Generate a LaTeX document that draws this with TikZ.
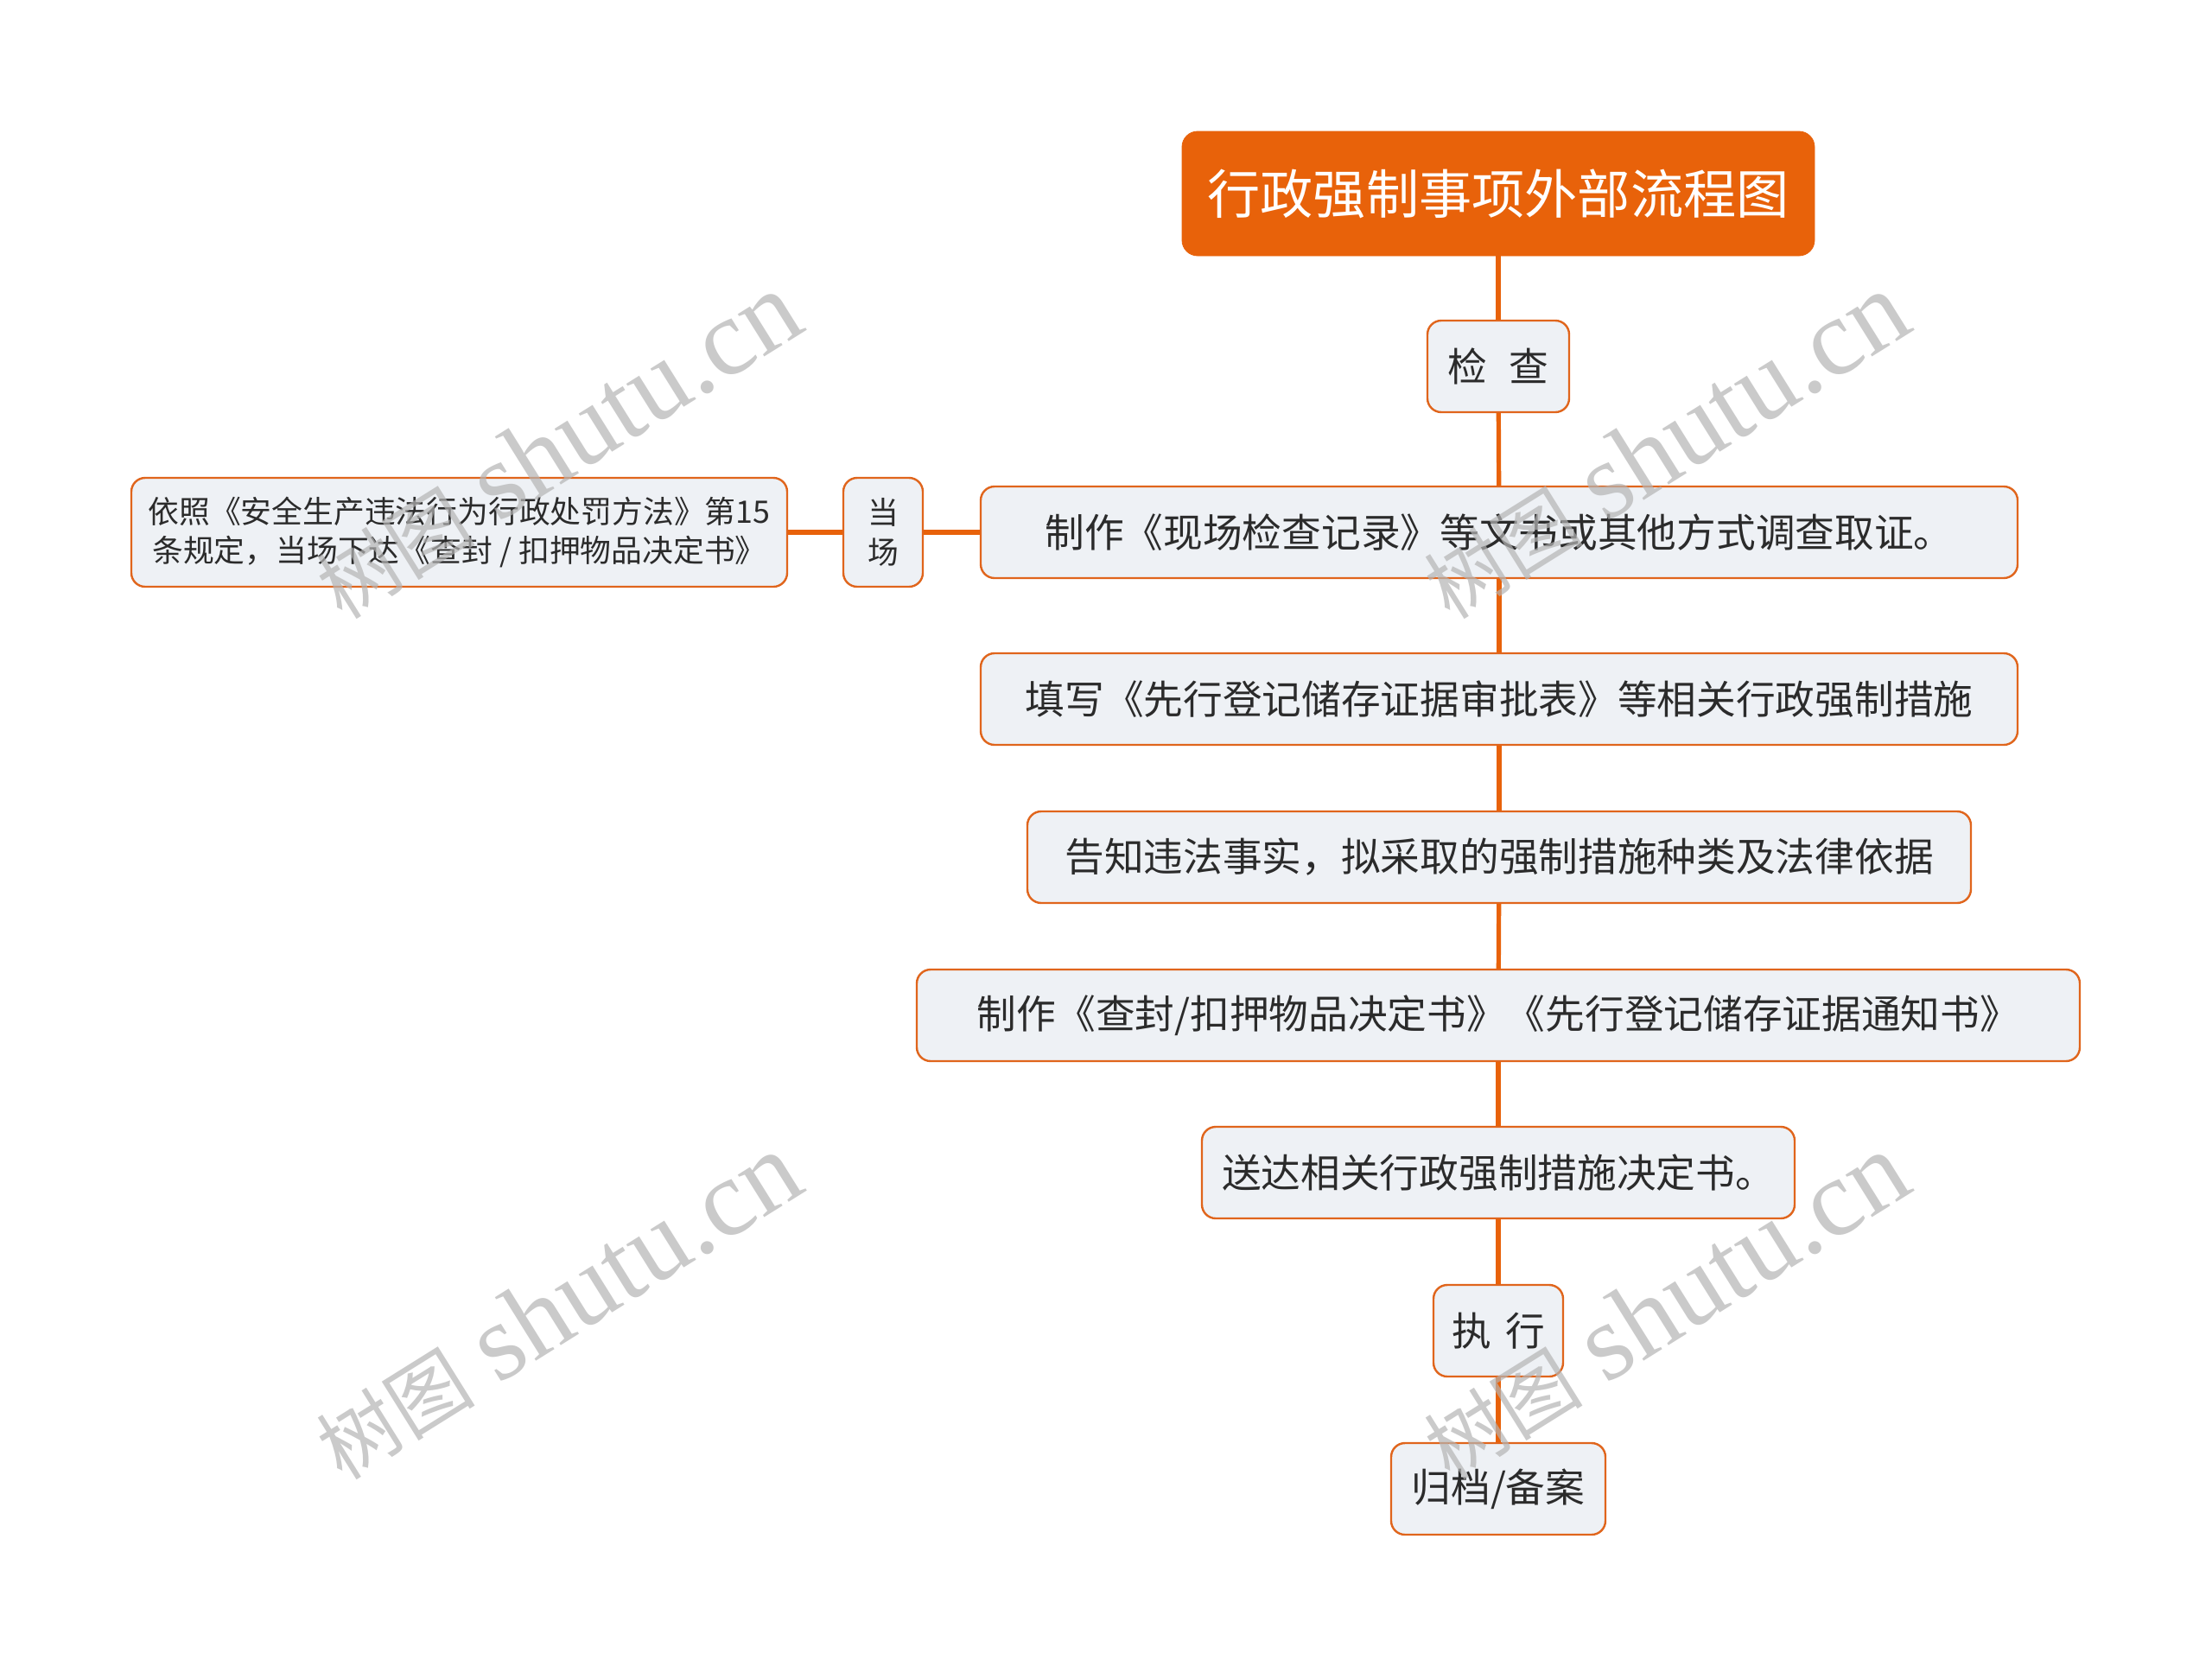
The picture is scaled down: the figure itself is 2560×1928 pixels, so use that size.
\documentclass[tikz,border=0pt]{standalone}
\usepackage{fontspec}
\setmainfont{Noto Sans CJK SC}
\newfontfamily\wmlatin{Liberation Serif}
\newfontfamily\wmcjk{Noto Sans CJK SC}
\definecolor{orng}{HTML}{E8620A}
\definecolor{bordc}{HTML}{E0651C}
\definecolor{boxfill}{HTML}{EEF1F5}
\definecolor{txt}{HTML}{2B2B2B}
\definecolor{wmc}{HTML}{B4B4B4}
\tikzset{
  box/.style={draw=bordc, line width=1.2pt, fill=boxfill, rounded corners=8pt,
    text=txt, font=\fontsize{22.85}{28}\selectfont, inner sep=0pt, align=center},
  smallbox/.style={box, font=\fontsize{17.9}{22.9}\selectfont},
  titlebox/.style={fill=orng, draw=orng, rounded corners=9pt, text=white,
    font=\fontsize{30.6}{34}\selectfont, inner sep=0pt, align=center},
  conn/.style={draw=orng, line width=2.6pt},
  wm/.style={text=wmc, opacity=0.7, rotate=32, inner sep=0pt}
}
\newcommand{\wmtext}{{\wmcjk\fontsize{46}{50}\selectfont 树图}\hspace{14pt}{\wmlatin\fontsize{63}{66}\selectfont shutu.cn}}
\begin{document}
\begin{tikzpicture}[x=0.5pt,y=-0.5pt]
\useasboundingbox (0,0) rectangle (2560,1928);
\fill[white] (0,0) rectangle (2560,1928);

\node[titlebox, minimum width=366pt, minimum height=72pt] (title) at (1734,224) {行政强制事项外部流程图};
\node[box, minimum width=82pt, minimum height=53pt] (check) at (1734,424) {检\hspace{0.55em}查};
\node[box, minimum width=600pt, minimum height=53pt] (m1) at (1735,616) {制作《现场检查记录》等文书或其他方式调查取证。};
\node[box, minimum width=600pt, minimum height=53pt] (m2) at (1735,809) {填写《先行登记储存证据审批表》等相关行政强制措施};
\node[box, minimum width=546pt, minimum height=53pt] (m3) at (1735,992) {告知违法事实，拟采取的强制措施种类及法律依据};
\node[box, minimum width=673pt, minimum height=53pt] (m4) at (1734,1175) {制作《查封/扣押物品决定书》《先行登记储存证据通知书》};
\node[box, minimum width=343pt, minimum height=53pt] (m5) at (1734,1357) {送达相关行政强制措施决定书。};
\node[box, minimum width=75pt, minimum height=53pt] (exec) at (1734,1540) {执\hspace{0.35em}行};
\node[box, minimum width=124pt, minimum height=53pt] (arch) at (1734,1723) {归档/备案};
\node[smallbox, minimum width=46pt, minimum height=63pt] (dc) at (1022,616) {当\\场};
\node[smallbox, minimum width=379.5pt, minimum height=63pt] (note) at (531.5,616) {依照《安全生产违法行为行政处罚方法》第15\\条规定，当场下达《查封 / 扣押物品决定书》};

\draw[conn] (title) -- (check);
\draw[conn] (check) -- (m1);
\draw[conn] (m1) -- (m2);
\draw[conn] (m2) -- (m3);
\draw[conn] (m3) -- (m4);
\draw[conn] (m4) -- (m5);
\draw[conn] (m5) -- (exec);
\draw[conn] (exec) -- (arch);
\draw[conn] (m1.west) -- (dc.east);
\draw[conn] (dc.west) -- (note.east);

\node[wm] (wm1) at (645,516) {\wmtext};
\node[wm] (wm2) at (1927,516) {\wmtext};
\node[wm] (wm3) at (645,1512) {\wmtext};
\node[wm] (wm4) at (1927,1512) {\wmtext};
\end{tikzpicture}
\end{document}
